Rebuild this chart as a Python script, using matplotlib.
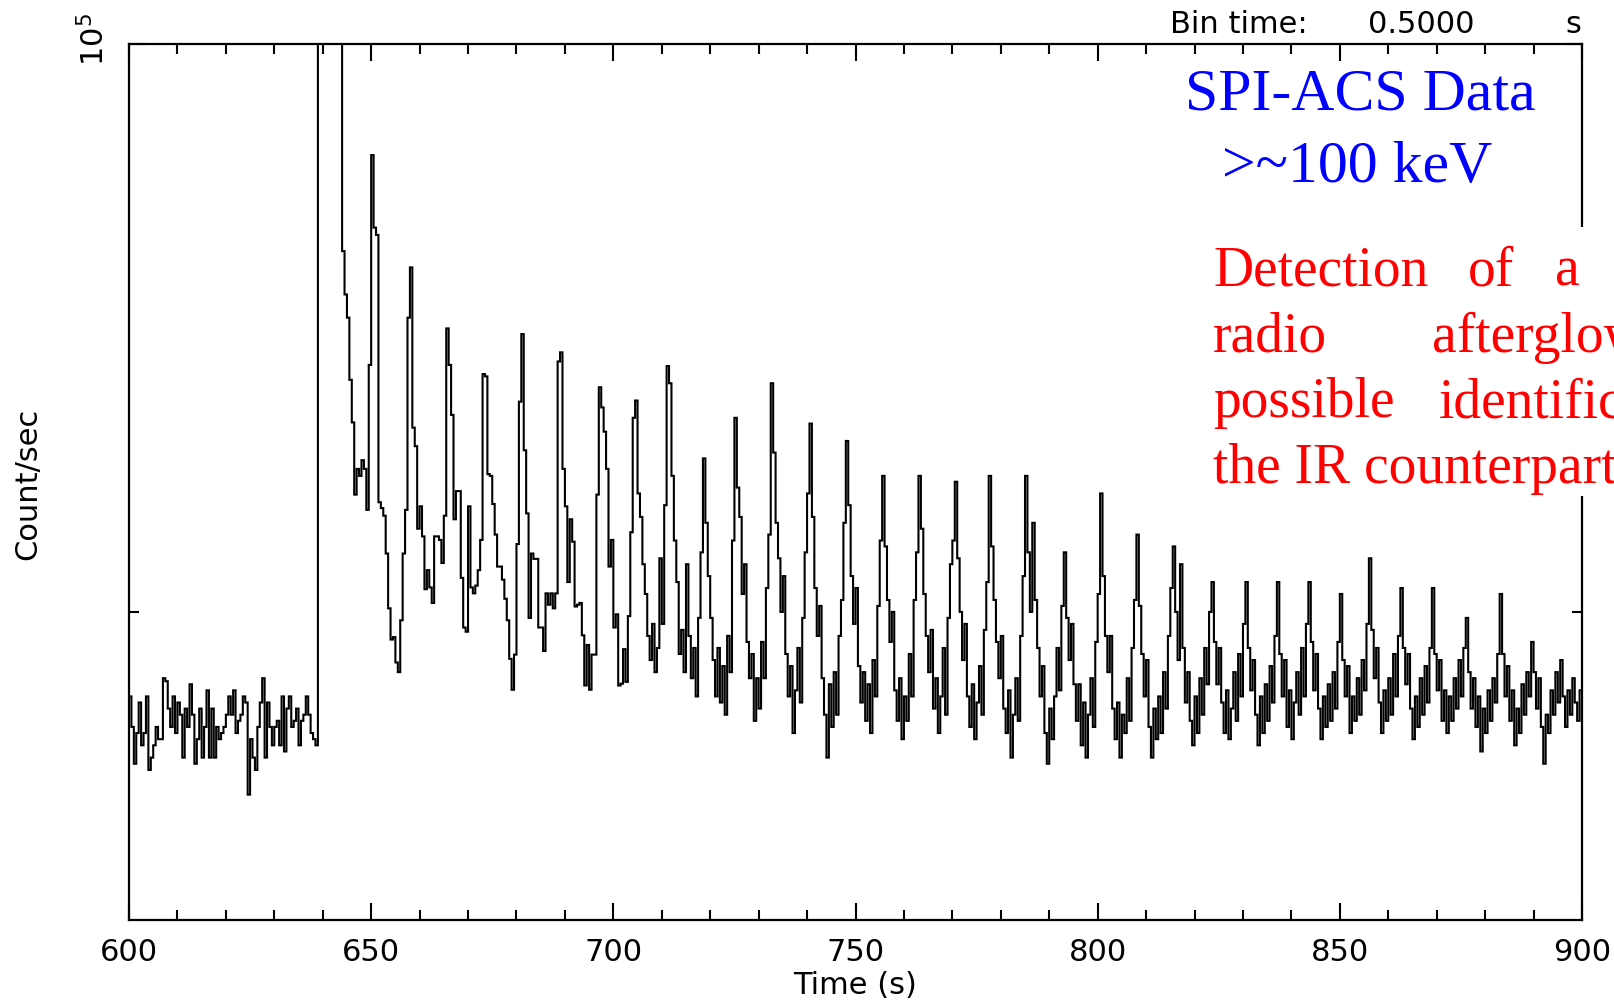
import numpy as np
import matplotlib.pyplot as plt
from matplotlib.patches import Rectangle
from matplotlib.ticker import FixedLocator, MultipleLocator, NullFormatter

W, H = 1614, 1003

t_start = 600.0
bin_time = 0.5

# SPI-ACS count rate per 0.5 s bin, in units of 1000 count/s
pre_burst = [
    88.6, 88.1, 87.5, 88.0, 88.5, 87.8, 88.0, 88.6, 87.4, 87.6,
    87.8, 88.1, 87.9, 87.9, 88.9, 88.85, 88.4, 88.1, 88.6, 88.0,
    88.5, 88.3, 87.6, 88.4, 88.1, 88.8, 88.3, 87.5, 87.9, 88.4,
    87.6, 88.1, 88.7, 87.6, 88.4, 87.6, 88.1, 87.9, 88.0, 88.1,
    88.3, 88.6, 88.3, 88.7, 88.0, 88.2, 88.3, 88.6, 88.5, 87.0,
    87.9, 87.6, 87.4, 88.1, 88.5, 88.9, 87.6, 88.5, 88.1, 87.8,
    88.1, 88.2, 87.8, 88.6, 87.7, 88.4, 88.6, 88.1, 88.2, 88.4,
    87.8, 88.2, 88.3, 88.6, 88.3, 88.0, 87.9, 87.8,
]

# saturated initial spike, far above the plotted range
flare_peak = [150.0, 210.0, 260.0, 300.0, 320.0, 330.0, 310.0, 280.0, 240.0, 200.0]

early_tail = [
    96.23, 95.46, 95.05, 93.96, 93.22, 91.98, 92.42, 92.30, 92.57, 92.42,
    91.72, 94.22, 97.96, 96.65, 96.52, 91.85, 91.75, 91.62, 90.98, 90.06,
    89.54, 89.58, 89.16, 89.00, 89.86, 90.98, 91.72, 95.05, 95.94, 93.13,
    92.81, 91.40, 91.78, 91.27, 90.38, 90.70, 90.41, 90.15, 91.27, 91.27,
    91.21, 90.82, 91.62, 94.86, 94.22, 93.35, 91.56, 92.04, 92.04, 90.57,
    89.74, 89.67, 91.78, 90.41, 90.31, 90.44, 90.70, 91.21, 94.06, 94.02,
    92.33, 92.30, 91.82, 91.30, 90.76, 90.76, 90.54, 90.22, 89.86, 89.22,
    88.71, 89.29, 91.14, 93.58, 94.76, 92.74, 91.66, 89.90, 90.98, 90.89,
    90.89, 89.74, 89.74, 89.35, 90.31, 90.12, 90.31, 90.06, 90.31, 94.28,
    94.44, 92.42, 91.78, 90.50, 91.56, 91.18, 90.09, 90.12, 90.15, 89.61,
    88.78, 89.45, 88.71, 89.29, 89.29, 91.98, 93.83, 93.48, 93.06, 92.42,
    90.76, 91.21, 89.74, 89.96, 88.78, 88.81, 89.38, 88.84, 89.93, 91.34,
]

late_tail = [
    93.3, 93.6, 92.0, 91.6, 90.8, 90.3, 89.6, 89.2, 89.8, 89.0,
    89.4, 90.9, 89.8, 91.8, 94.2, 93.9, 92.3, 91.2, 90.5, 89.3,
    89.7, 89.0, 90.8, 89.6, 88.9, 89.4, 88.6, 89.9, 91.0, 92.6,
    91.5, 90.6, 89.9, 89.2, 88.6, 89.4, 88.5, 89.1, 88.3, 89.6,
    89.0, 91.2, 93.3, 92.1, 91.6, 90.3, 90.8, 89.5, 88.9, 89.3,
    88.2, 88.9, 88.4, 89.5, 88.9, 90.4, 91.3, 93.9, 92.7, 91.5,
    90.9, 90.0, 90.6, 89.3, 88.6, 89.1, 88.0, 88.7, 89.4, 88.5,
    89.9, 91.0, 92.0, 93.2, 91.6, 90.4, 89.6, 90.1, 88.9, 88.3,
    87.6, 88.8, 88.1, 89.0, 88.3, 89.6, 90.2, 91.5, 92.9, 91.8,
    90.6, 89.8, 90.4, 89.1, 88.5, 89.0, 88.2, 88.8, 88.0, 89.2,
    88.6, 90.1, 91.2, 92.3, 91.1, 90.2, 89.5, 90.0, 88.7, 88.2,
    88.9, 87.9, 88.6, 88.2, 89.3, 88.6, 90.2, 91.0, 92.3, 91.4,
    90.3, 89.6, 89.0, 89.7, 88.4, 88.9, 88.0, 88.6, 89.4, 88.3,
    89.9, 90.8, 91.2, 92.2, 90.9, 90.0, 89.2, 89.8, 88.6, 88.1,
    88.8, 87.9, 88.5, 89.1, 88.3, 89.7, 90.5, 92.3, 91.1, 90.2,
    89.5, 88.9, 89.6, 88.4, 88.0, 88.7, 87.6, 88.3, 88.9, 88.2,
    89.6, 90.6, 92.3, 91.0, 90.0, 91.5, 90.2, 89.4, 88.6, 89.1,
    88.0, 87.5, 88.4, 87.9, 88.6, 89.4, 88.7, 90.1, 91.0, 89.9,
    89.2, 89.8, 88.8, 88.2, 88.8, 87.8, 88.5, 87.6, 88.3, 88.9,
    88.1, 89.5, 90.3, 92.0, 90.6, 89.6, 89.0, 89.6, 88.4, 87.9,
    88.5, 87.6, 88.3, 88.0, 88.9, 88.2, 89.4, 90.2, 91.3, 90.1,
    89.3, 88.6, 89.2, 88.1, 87.6, 88.4, 87.9, 88.6, 88.0, 89.0,
    88.4, 89.6, 90.4, 91.1, 90.0, 89.2, 90.8, 89.4, 88.5, 89.0,
    88.2, 87.8, 88.6, 88.0, 88.9, 88.3, 89.4, 88.8, 90.0, 90.5,
    89.5, 88.8, 89.4, 88.5, 88.0, 88.7, 87.9, 88.4, 89.0, 88.2,
    89.3, 88.6, 89.8, 90.5, 89.4, 88.7, 89.2, 88.3, 87.8, 88.6,
    88.0, 88.8, 88.2, 89.1, 88.5, 89.6, 90.5, 89.3, 88.6, 89.2,
    88.1, 88.7, 87.9, 88.5, 89.0, 88.3, 89.4, 88.6, 89.8, 90.5,
    89.5, 88.7, 89.3, 88.4, 87.9, 88.6, 88.1, 88.8, 88.2, 89.0,
    88.4, 89.5, 90.3, 89.2, 88.6, 89.1, 88.0, 88.6, 88.2, 88.9,
    88.3, 89.2, 88.7, 89.8, 90.9, 89.7, 88.9, 89.4, 88.5, 88.0,
    88.7, 88.2, 88.9, 88.3, 89.3, 88.6, 89.6, 90.4, 89.4, 88.8,
    89.3, 88.4, 87.9, 88.6, 88.1, 88.9, 88.3, 89.1, 88.5, 89.4,
    90.4, 89.3, 88.7, 89.2, 88.2, 88.7, 88.0, 88.6, 88.2, 88.9,
    88.4, 89.2, 88.6, 89.4, 89.9, 89.0, 88.4, 88.9, 88.1, 88.6,
    87.7, 88.4, 88.0, 88.7, 88.2, 88.9, 88.5, 89.3, 90.3, 89.3,
    88.6, 89.1, 88.2, 88.7, 87.8, 88.4, 88.0, 88.8, 88.3, 89.0,
    88.6, 89.5, 89.0, 88.4, 88.9, 88.1, 87.5, 88.3, 88.0, 88.7,
    88.3, 89.0, 88.5, 89.2, 88.6, 88.1, 88.7, 88.3, 88.9, 88.5,
    88.2, 88.7,
]

rate = np.array(pre_burst + flare_peak + early_tail + late_tail) * 1000.0
edges = t_start + bin_time * np.arange(len(rate) + 1)


def fx(x):
    return x / W


def fy(y):
    return 1 - y / H


plt.rcParams['font.family'] = 'DejaVu Sans'

fig = plt.figure(figsize=(W / 100, H / 100), dpi=100)
ax = fig.add_axes([fx(129), fy(921), fx(1582) - fx(129), fy(45) - fy(921)])

ax.stairs(rate, edges, baseline=None, color='black', linewidth=1.5)

ax.set_xlim(600, 900)
ax.set_yscale('log')
ax.set_ylim(85000, 100000)

ax.xaxis.set_major_locator(MultipleLocator(50))
ax.xaxis.set_minor_locator(MultipleLocator(10))
ax.yaxis.set_major_locator(FixedLocator([1e5]))
ax.yaxis.set_minor_locator(FixedLocator([9e4]))
ax.yaxis.set_major_formatter(NullFormatter())
ax.yaxis.set_minor_formatter(NullFormatter())

ax.tick_params(which='both', direction='in', top=True, right=True, width=1.5)
ax.tick_params(which='major', length=12)
ax.tick_params(which='minor', length=7)
ax.tick_params(axis='x', labelsize=22, pad=12)
for s in ax.spines.values():
    s.set_linewidth(1.6)

fig.text(fx(855), fy(985), 'Time (s)', ha='center', va='center', fontsize=22)
fig.text(fx(28), fy(484), 'Count/sec', ha='center', va='center', rotation=90, fontsize=22)
fig.text(fx(94), fy(40), r'10$^5$', ha='center', va='center', rotation=90, fontsize=22)

fig.text(fx(1170), fy(33), 'Bin time:', ha='left', va='baseline', fontsize=22)
fig.text(fx(1368), fy(33), '0.5000', ha='left', va='baseline', fontsize=22)
fig.text(fx(1565), fy(33), 's', ha='left', va='baseline', fontsize=22)

serif = 'Liberation Serif'
fig.text(fx(1360), fy(110), 'SPI-ACS Data', ha='center', va='baseline',
         fontsize=43, color='blue', family=serif)
fig.text(fx(1357), fy(182), '>~100 keV', ha='center', va='baseline',
         fontsize=43, color='blue', family=serif)

# white box with red note, hiding the right frame like in the original slide
fig.patches.append(Rectangle((fx(1205), fy(497)), fx(1614) - fx(1205), fy(228) - fy(497),
                             transform=fig.transFigure, facecolor='white',
                             edgecolor='none', zorder=5))
red_words = [
    ('Detection', 1213, 286), ('of', 1468, 286), ('a', 1555, 286),
    ('radio', 1213, 352), ('afterglow', 1432, 352),
    ('possible', 1213, 417), ('identification', 1439, 417),
    ('the IR counterpart', 1213, 483),
]
for word, x, y in red_words:
    fig.text(fx(x), fy(y), word, ha='left', va='baseline', fontsize=40,
             color='red', family=serif, zorder=6)

fig.savefig('out.png', dpi=100)
